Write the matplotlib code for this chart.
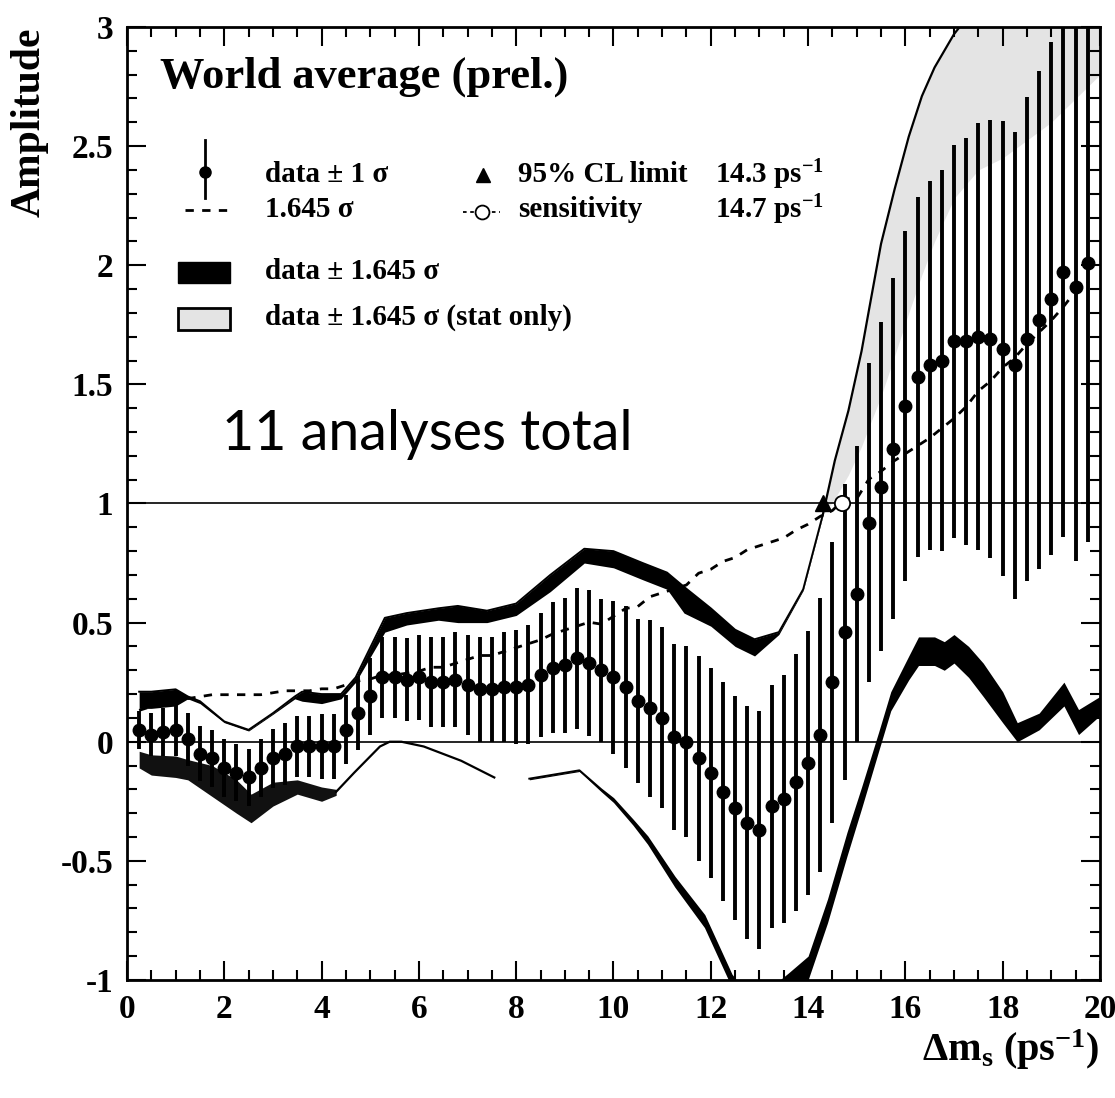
import matplotlib
matplotlib.use("Agg")
import matplotlib.pyplot as plt
from matplotlib.ticker import MultipleLocator
from matplotlib.patches import Rectangle

# amplitude scan, points every 0.25 ps-1
dms = [0.25, 0.5, 0.75, 1.0, 1.25, 1.5, 1.75, 2.0, 2.25, 2.5,
       2.75, 3.0, 3.25, 3.5, 3.75, 4.0, 4.25, 4.5, 4.75, 5.0,
       5.25, 5.5, 5.75, 6.0, 6.25, 6.5, 6.75, 7.0, 7.25, 7.5,
       7.75, 8.0, 8.25, 8.5, 8.75, 9.0, 9.25, 9.5, 9.75, 10.0,
       10.25, 10.5, 10.75, 11.0, 11.25, 11.5, 11.75, 12.0, 12.25, 12.5,
       12.75, 13.0, 13.25, 13.5, 13.75, 14.0, 14.25, 14.5, 14.75, 15.0,
       15.25, 15.5, 15.75, 16.0, 16.25, 16.5, 16.75, 17.0, 17.25, 17.5,
       17.75, 18.0, 18.25, 18.5, 18.75, 19.0, 19.25, 19.5, 19.75]
amp = [0.05, 0.03, 0.04, 0.05, 0.01, -0.05, -0.07, -0.11, -0.13, -0.15,
       -0.11, -0.07, -0.05, -0.02, -0.02, -0.02, -0.02, 0.05, 0.12, 0.19,
       0.27, 0.27, 0.26, 0.27, 0.25, 0.25, 0.26, 0.24, 0.22, 0.22,
       0.23, 0.23, 0.24, 0.28, 0.31, 0.32, 0.35, 0.33, 0.30, 0.27,
       0.23, 0.17, 0.14, 0.10, 0.02, 0.00, -0.07, -0.13, -0.21, -0.28,
       -0.34, -0.37, -0.27, -0.24, -0.17, -0.09, 0.03, 0.25, 0.46, 0.62,
       0.92, 1.07, 1.23, 1.41, 1.53, 1.58, 1.60, 1.68, 1.68, 1.70,
       1.69, 1.65, 1.58, 1.69, 1.77, 1.86, 1.97, 1.91, 2.01]
err = [0.08, 0.09, 0.10, 0.11, 0.11, 0.115, 0.12, 0.12, 0.12, 0.12,
       0.12, 0.125, 0.13, 0.13, 0.13, 0.135, 0.135, 0.145, 0.155, 0.16,
       0.17, 0.17, 0.175, 0.18, 0.19, 0.19, 0.20, 0.21, 0.22, 0.22,
       0.23, 0.24, 0.25, 0.26, 0.275, 0.285, 0.295, 0.305, 0.30, 0.32,
       0.34, 0.345, 0.37, 0.38, 0.39, 0.40, 0.43, 0.44, 0.46, 0.47,
       0.49, 0.50, 0.51, 0.52, 0.54, 0.555, 0.575, 0.59, 0.62, 0.62,
       0.67, 0.69, 0.715, 0.735, 0.755, 0.775, 0.80, 0.825, 0.855, 0.895,
       0.92, 0.955, 0.98, 1.015, 1.045, 1.075, 1.11, 1.15, 1.17]

# upper edge of data + 1.645 sigma (black band)
up_x = [0.25, 0.5, 1.0, 1.25, 1.5, 2.0, 2.5, 3.0, 3.45, 3.6, 4.0, 4.4, 4.7, 5.3, 5.75,
        6.4, 6.8, 7.4, 8.0, 8.7, 9.4, 10.0, 10.6, 11.1, 11.45, 12.0, 12.5, 12.9,
        13.4, 13.9, 14.3]
up_hi = [0.21, 0.21, 0.22, 0.19, 0.17, 0.085, 0.05, 0.12, 0.19, 0.21, 0.20, 0.20, 0.27,
         0.52, 0.54, 0.56, 0.57, 0.55, 0.58, 0.70, 0.81, 0.80, 0.75, 0.71, 0.65, 0.56,
         0.47, 0.43, 0.46, 0.64, 0.95]
up_lo = [0.14, 0.14, 0.15, 0.18, 0.16, 0.08, 0.045, 0.115, 0.18, 0.17, 0.16, 0.18, 0.25,
         0.46, 0.49, 0.51, 0.50, 0.50, 0.53, 0.63, 0.75, 0.73, 0.68, 0.64, 0.54, 0.485,
         0.40, 0.36, 0.45, 0.635, 0.945]

# upper edge at high dms (stat only band, grey)
st_x = [14.3, 14.55, 14.83, 15.1, 15.25, 15.5, 15.78, 16.07, 16.34, 16.6, 17.0, 17.5,
        18.0, 19.0, 20.0]
st_hi = [0.95, 1.18, 1.39, 1.64, 1.81, 2.09, 2.32, 2.54, 2.71, 2.83, 2.97, 3.1, 3.2,
         3.4, 3.6]
st_lo = [0.95, 1.02, 1.12, 1.24, 1.32, 1.45, 1.62, 1.80, 1.96, 2.1, 2.28, 2.4, 2.45,
         2.6, 2.8]

# lower edge of data - 1.645 sigma, in pieces
lo1_x = [0.25, 0.5, 1.0, 1.25, 1.75, 2.25, 2.55, 3.0, 3.5, 4.0, 4.3]
lo1_top = [-0.04, -0.055, -0.06, -0.075, -0.10, -0.16, -0.22, -0.17, -0.16, -0.19, -0.20]
lo1_bot = [-0.11, -0.14, -0.15, -0.16, -0.23, -0.30, -0.34, -0.27, -0.22, -0.25, -0.225]

lo2_x = [4.3, 4.67, 5.2, 5.4, 5.64, 6.1, 6.87, 7.55]
lo2_y = [-0.21, -0.13, -0.02, 0.0, 0.0, -0.02, -0.08, -0.15]

lo3_x = [8.27, 9.3, 9.75, 10.0, 10.4, 10.7, 11.26, 11.87, 12.43, 12.7]
lo3_top = [-0.155, -0.12, -0.20, -0.24, -0.33, -0.40, -0.57, -0.73, -0.98, -1.05]
lo3_bot = [-0.16, -0.125, -0.21, -0.255, -0.35, -0.43, -0.61, -0.78, -1.03, -1.1]

lo4_x = [13.3, 13.6, 14.0, 14.4, 14.8, 15.1, 15.45, 15.7, 16.07, 16.27, 16.6, 16.8,
         17.0, 17.3, 17.6, 18.0, 18.3, 18.75, 19.26, 19.56, 20.0]
lo4_top = [-1.02, -0.97, -0.90, -0.66, -0.38, -0.19, 0.04, 0.21, 0.36, 0.44, 0.44, 0.42,
           0.45, 0.40, 0.33, 0.21, 0.08, 0.12, 0.25, 0.135, 0.19]
lo4_bot = [-1.1, -1.06, -1.0, -0.76, -0.48, -0.28, -0.04, 0.13, 0.26, 0.32, 0.32, 0.30,
           0.33, 0.27, 0.19, 0.08, 0.0, 0.05, 0.15, 0.03, 0.11]

cl_limit = 14.3
sensitivity = 14.7

plt.rcParams['font.family'] = ['Liberation Serif', 'DejaVu Serif']
plt.rcParams['font.weight'] = 'bold'
plt.rcParams['mathtext.fontset'] = 'custom'
plt.rcParams['mathtext.rm'] = 'Liberation Serif:bold'
plt.rcParams['mathtext.it'] = 'Liberation Serif:bold'
plt.rcParams['mathtext.default'] = 'rm'

fig = plt.figure(figsize=(11.15, 10.98), dpi=100)
ax = fig.add_axes([0.1139, 0.1075, 0.8726, 0.8679])

# bands
ax.fill_between(st_x, st_lo, st_hi, color='#e4e4e4', lw=0, zorder=1)
ax.plot(st_x, st_hi, color='black', lw=1.6, zorder=2)
ax.fill_between(up_x, up_lo, up_hi, color='black', lw=0, zorder=2)
ax.plot(up_x, up_hi, color='black', lw=1.4, zorder=2)
ax.fill_between(lo1_x, lo1_bot, lo1_top, color='#111111', lw=0, zorder=2)
ax.plot(lo2_x, lo2_y, color='black', lw=1.6, zorder=2)
ax.fill_between(lo3_x, lo3_bot, lo3_top, color='black', lw=0, zorder=2)
ax.plot(lo3_x, lo3_top, color='black', lw=1.4, zorder=2)
ax.fill_between(lo4_x, lo4_bot, lo4_top, color='black', lw=0, zorder=2)

ax.axhline(0, color='black', lw=1.2, zorder=1)
ax.axhline(1, color='black', lw=1.2, zorder=1)

# 1.645 sigma curve
sig1645 = [1.645 * e for e in err]
ax.plot(dms, sig1645, color='black', lw=2, ls=(0, (3, 3)), zorder=3)

ax.errorbar(dms, amp, yerr=err, fmt='o', color='black', ms=9,
            elinewidth=2.8, capsize=0, zorder=4)

ax.plot([cl_limit], [1.0], marker='^', color='black', ms=11, zorder=5)
ax.plot([sensitivity], [1.0], marker='o', mfc='white', mec='black', mew=1.3,
        ms=11, zorder=5)

ax.set_xlim(0, 20)
ax.set_ylim(-1, 3)
ax.xaxis.set_major_locator(MultipleLocator(2))
ax.xaxis.set_minor_locator(MultipleLocator(0.5))
ax.yaxis.set_major_locator(MultipleLocator(0.5))
ax.yaxis.set_minor_locator(MultipleLocator(0.1))
ax.tick_params(which='both', direction='in', top=True, right=True, width=1.5)
ax.tick_params(which='major', length=14, labelsize=24, pad=10)
ax.tick_params(which='minor', length=7)
ax.set_yticks([-1, -0.5, 0, 0.5, 1, 1.5, 2, 2.5, 3])
ax.set_yticklabels(['-1', '-0.5', '0', '0.5', '1', '1.5', '2', '2.5', '3'])
for s in ax.spines.values():
    s.set_linewidth(2)

ax.text(-0.0997, 1.0, 'Amplitude', transform=ax.transAxes, rotation=90,
        ha='center', va='top', fontsize=30)
ax.text(1.0, -0.073, 'Δm$_\\mathrm{s}$ (ps$^{-1}$)', transform=ax.transAxes,
        ha='right', va='center', fontsize=29)

# legend drawn by hand
T = ax.transAxes
ax.text(0.034, 0.936, 'World average (prel.)', transform=T, fontsize=32,
        va='baseline')
ax.plot([0.080, 0.080], [0.821, 0.881], color='black', lw=2, transform=T)
ax.plot([0.080], [0.848], 'o', color='black', ms=8, transform=T)
ax.text(0.142, 0.845, 'data ± 1 σ', transform=T, fontsize=21, va='center')
ax.plot([0.060, 0.106], [0.808, 0.808], color='black', lw=2, ls=(0, (3, 3)),
        transform=T)
ax.text(0.142, 0.808, '1.645 σ', transform=T, fontsize=21, va='center')
ax.plot([0.366], [0.845], '^', color='black', ms=10, transform=T)
ax.text(0.402, 0.845, '95% CL limit', transform=T, fontsize=21, va='center')
ax.text(0.604, 0.845, '14.3 ps$^{-1}$', transform=T, fontsize=21, va='center')
ax.plot([0.345, 0.383], [0.806, 0.806], color='black', lw=1.3, ls=(0, (2, 2)),
        transform=T)
ax.plot([0.365], [0.806], 'o', mfc='white', mec='black', mew=1.3, ms=10,
        transform=T)
ax.text(0.402, 0.808, 'sensitivity', transform=T, fontsize=21, va='center')
ax.text(0.604, 0.808, '14.7 ps$^{-1}$', transform=T, fontsize=21, va='center')
ax.add_patch(Rectangle((0.052, 0.731), 0.054, 0.022, transform=T,
                       facecolor='black', edgecolor='black'))
ax.text(0.142, 0.743, 'data ± 1.645 σ', transform=T, fontsize=21, va='center')
ax.add_patch(Rectangle((0.052, 0.682), 0.054, 0.023, transform=T,
                       facecolor='#e4e4e4', edgecolor='black', lw=2))
ax.text(0.142, 0.695, 'data ± 1.645 σ (stat only)', transform=T, fontsize=21,
        va='center')

# handwritten note
ax.text(0.098, 0.572, '11 analyses total', transform=T, fontsize=40,
        family=['Lato', 'DejaVu Sans'], fontweight='normal', color='black',
        va='center')

fig.savefig('out.png', dpi=100)
